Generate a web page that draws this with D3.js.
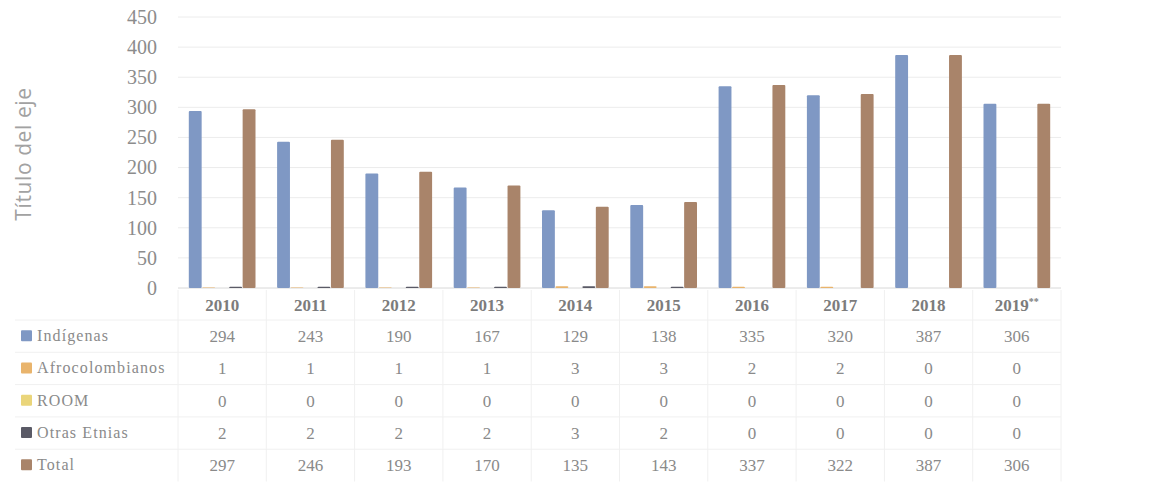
<!DOCTYPE html>
<html>
<head>
<meta charset="utf-8">
<script src="https://cdn.jsdelivr.net/npm/d3@7"></script>
<style>
  body { margin: 0; background: #fff; }
  text { font-family: "Liberation Serif", serif; }
</style>
</head>
<body>
<div class="chart"></div>
<script>
"use strict";

const years = ["2010", "2011", "2012", "2013", "2014", "2015", "2016", "2017", "2018", "2019**"];
const seriesNames = ["Indígenas", "Afrocolombianos", "ROOM", "Otras Etnias", "Total"];
const indigenas = [294, 243, 190, 167, 129, 138, 335, 320, 387, 306];
const afro = [1, 1, 1, 1, 3, 3, 2, 2, 0, 0];
const room = [0, 0, 0, 0, 0, 0, 0, 0, 0, 0];
const otras = [2, 2, 2, 2, 3, 2, 0, 0, 0, 0];
const total = [297, 246, 193, 170, 135, 143, 337, 322, 387, 306];
const yTicks = [0, 50, 100, 150, 200, 250, 300, 350, 400, 450];
const colors = ["#7f98c4", "#e9b46c", "#ead57a", "#5a5a66", "#a9846a"];

const seriesValues = [indigenas, afro, room, otras, total];

const width = 1152;
const height = 482;
const plot = { left: 178, right: 1061, top: 17, bottom: 288 };

const svg = d3
  .select(".chart")
  .append("svg")
  .attr("width", width)
  .attr("height", height);

const x0 = d3.scaleBand().domain(years).range([plot.left, plot.right]).padding(0);
const x1 = d3
  .scaleBand()
  .domain(seriesNames)
  .range([10.5, x0.bandwidth() - 10.5])
  .padding(0);
const y = d3.scaleLinear().domain([0, 450]).range([plot.bottom, plot.top]);

// grid lines
svg
  .append("g")
  .selectAll("line")
  .data(yTicks)
  .join("line")
  .attr("x1", plot.left)
  .attr("x2", plot.right)
  .attr("y1", (d) => y(d))
  .attr("y2", (d) => y(d))
  .attr("stroke", (d) => (d === 0 ? "#d8d8d8" : "#ececec"))
  .attr("stroke-width", 1);

// y axis labels
const yAxis = d3.axisLeft(y).tickValues(yTicks).tickSize(0).tickPadding(0);
svg
  .append("g")
  .attr("transform", "translate(157,0)")
  .call(yAxis)
  .call((g) => g.select(".domain").remove())
  .call((g) =>
    g
      .selectAll("text")
      .attr("font-family", "Liberation Serif, serif")
      .attr("font-size", 20)
      .attr("fill", "#8c8c8c")
  );

svg
  .append("text")
  .attr("transform", "translate(31,154) rotate(-90)")
  .attr("text-anchor", "middle")
  .style("font-family", "'Open Sans', sans-serif")
  .attr("font-size", 21)
  .attr("letter-spacing", 0.6)
  .attr("fill", "#a2a2a2")
  .text("Título del eje");

// bars
const groups = svg
  .append("g")
  .selectAll("g")
  .data(years)
  .join("g")
  .attr("transform", (d) => `translate(${x0(d)},0)`);

groups
  .selectAll("rect")
  .data((d, i) => seriesNames.map((s, j) => ({ s, v: seriesValues[j][i], c: colors[j] })))
  .join("rect")
  .attr("x", (d) => x1(d.s) + 0.3)
  .attr("width", x1.bandwidth() - 0.6)
  .attr("y", (d) => y(d.v))
  .attr("height", (d) => y(0) - y(d.v))
  .attr("rx", 1)
  .attr("fill", (d) => d.c);

// data table
const rowTop = 320;
const rowH = 32.3;
const tableLeft = 15;

const grid = svg.append("g").attr("stroke", "#f0f0f0").attr("stroke-width", 1);
grid
  .selectAll("line.v")
  .data(years.concat(["end"]))
  .join("line")
  .attr("class", "v")
  .attr("x1", (d, i) => plot.left + i * x0.bandwidth())
  .attr("x2", (d, i) => plot.left + i * x0.bandwidth())
  .attr("y1", plot.bottom + 2)
  .attr("y2", rowTop + rowH * seriesNames.length);
grid
  .selectAll("line.h")
  .data(d3.range(seriesNames.length))
  .join("line")
  .attr("class", "h")
  .attr("x1", tableLeft)
  .attr("x2", plot.right)
  .attr("y1", (d) => rowTop + d * rowH)
  .attr("y2", (d) => rowTop + d * rowH);

const yearLabels = svg
  .append("g")
  .selectAll("text")
  .data(years)
  .join("text")
  .attr("x", (d) => x0(d) + x0.bandwidth() / 2)
  .attr("y", 311)
  .attr("text-anchor", "middle")
  .attr("font-size", 17)
  .attr("font-weight", 700)
  .attr("fill", "#7c7c7c");

yearLabels.append("tspan").text((d) => d.replace("**", ""));
yearLabels
  .filter((d) => d.includes("**"))
  .append("tspan")
  .attr("font-size", 10)
  .attr("dy", -6)
  .text("**");

const rows = svg
  .append("g")
  .selectAll("g")
  .data(seriesNames)
  .join("g")
  .attr("transform", (d, i) => `translate(0,${rowTop + i * rowH + rowH / 2})`);

rows
  .append("rect")
  .attr("x", 21)
  .attr("y", -6)
  .attr("width", 11)
  .attr("height", 11)
  .attr("rx", 1)
  .attr("fill", (d, i) => colors[i]);

rows
  .append("text")
  .attr("x", 37)
  .attr("y", 5)
  .attr("font-size", 16)
  .attr("letter-spacing", 1.1)
  .attr("fill", "#8a8a8a")
  .text((d) => d);

rows
  .selectAll("text.val")
  .data((d, i) => seriesValues[i].map((v, k) => ({ v, year: years[k] })))
  .join("text")
  .attr("class", "val")
  .attr("x", (d) => x0(d.year) + x0.bandwidth() / 2)
  .attr("y", 6)
  .attr("text-anchor", "middle")
  .attr("font-size", 17)
  .attr("fill", "#8a8a8a")
  .text((d) => d.v);
</script>
</body>
</html>
